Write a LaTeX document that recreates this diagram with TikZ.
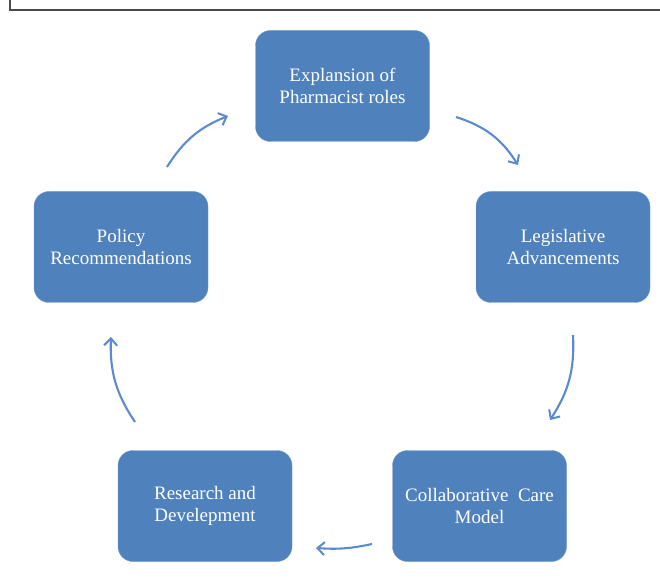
\documentclass[tikz,border=0pt]{standalone}
\usepackage{fontspec}
\setmainfont{Liberation Serif}
\usepackage{tikz}
\usetikzlibrary{arrows.meta}
\definecolor{boxblue}{HTML}{4F81BD}
\definecolor{arrblue}{HTML}{5B8ACF}

\begin{document}
\begin{tikzpicture}[x=1pt, y=1pt,
		stagebox/.style={draw=boxblue!80!white, fill=boxblue, rounded corners=15pt,
			minimum width=174pt, minimum height=111pt, align=center, text=white,
			font=\fontsize{19}{22}\selectfont},
		cyc/.style={arrblue, line width=2.1pt, -{Straight Barb[length=7pt,width=13pt,line width=2pt]}}]
				\useasboundingbox (0, 0) rectangle (660, 586);
				% Frame:
				\draw[gray!60!black, line width=1.3pt] (10, 586) -- (10, 576) -- (660, 576);
				% Boxes:
				\node[stagebox](expl) at (342.5, 500){Explansion of\\Pharmacist roles};
				\node[stagebox](legis) at (563, 339){Legislative\\Advancements};
				\node[stagebox](collab) at (479.5, 80){Collaborative\ \ Care\\Model};
				\node[stagebox](resdev) at (205, 80){Research and\\Develepment};
				\node[stagebox](policy) at (121, 339){Policy\\Recommendations};
				% Arrow ends:
				\coordinate (a1) at (456, 469); \coordinate (b1) at (518, 421);
				\coordinate (a2) at (573, 251); \coordinate (b2) at (550, 166);
				\coordinate (a3) at (372, 42); \coordinate (b3) at (316, 38);
				\coordinate (a4) at (135, 164); \coordinate (b4) at (111, 249);
				\coordinate (a5) at (167, 419); \coordinate (b5) at (228, 470);
				% Cycle arrows:
				\draw[cyc] (a1) to[bend left=20] (b1);
				\draw[cyc] (a2) to[bend left=18] (b2);
				\draw[cyc] (a3) to[bend left=8] (b3);
				\draw[cyc] (a4) to[bend left=18] (b4);
				\draw[cyc] (a5) to[bend left=18] (b5);
			\end{tikzpicture}
\end{document}
